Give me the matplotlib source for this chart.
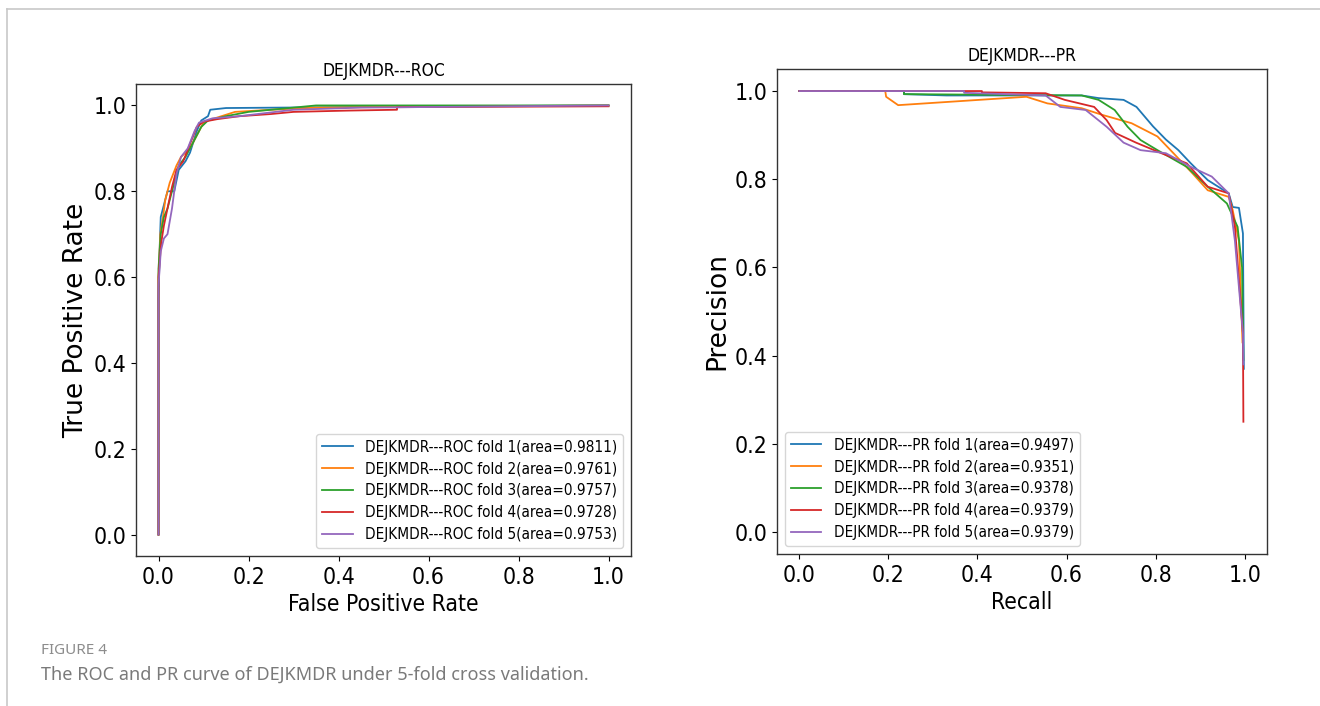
"""ROC and PR curves of DEJKMDR under 5-fold cross validation (figure 4 recreation)."""

import matplotlib

matplotlib.use("Agg")
import matplotlib.pyplot as plt
from matplotlib.lines import Line2D

# ---------------------------------------------------------------------------
# Data
# ---------------------------------------------------------------------------
FOLD_LABELS = ["fold 1", "fold 2", "fold 3", "fold 4", "fold 5"]
ROC_AREA = ["0.9811", "0.9761", "0.9757", "0.9728", "0.9753"]
PR_AREA = ["0.9497", "0.9351", "0.9378", "0.9379", "0.9379"]

roc_fpr_1 = [0, 0, 0.003, 0.005, 0.015, 0.02, 0.035, 0.045, 0.06, 0.07, 0.085, 0.095, 0.11, 0.115, 0.15, 0.4, 0.6, 1.0]
roc_tpr_1 = [0, 0.55, 0.68, 0.74, 0.78, 0.80, 0.80, 0.85, 0.87, 0.89, 0.94, 0.965, 0.975, 0.99, 0.994, 0.996, 0.998, 1.0]
roc_fpr_2 = [0, 0, 0.004, 0.01, 0.015, 0.025, 0.04, 0.05, 0.07, 0.085, 0.1, 0.11, 0.14, 0.17, 0.25, 0.35, 0.55, 1.0]
roc_tpr_2 = [0, 0.6, 0.70, 0.74, 0.78, 0.82, 0.86, 0.88, 0.90, 0.93, 0.96, 0.965, 0.975, 0.985, 0.99, 0.995, 0.997, 1.0]
roc_fpr_3 = [0, 0, 0.005, 0.012, 0.02, 0.03, 0.045, 0.06, 0.08, 0.095, 0.11, 0.15, 0.2, 0.3, 0.35, 1.0]
roc_tpr_3 = [0, 0.62, 0.70, 0.74, 0.76, 0.80, 0.86, 0.88, 0.92, 0.95, 0.965, 0.975, 0.985, 0.995, 1.0, 1.0]
roc_fpr_4 = [0, 0, 0.006, 0.012, 0.02, 0.03, 0.04, 0.055, 0.07, 0.085, 0.1, 0.13, 0.18, 0.25, 0.3, 0.42, 0.53, 0.53, 1.0]
roc_tpr_4 = [0, 0.6, 0.68, 0.72, 0.76, 0.81, 0.85, 0.87, 0.91, 0.95, 0.962, 0.968, 0.975, 0.98, 0.985, 0.988, 0.99, 0.996, 0.998]
roc_fpr_5 = [0, 0, 0.005, 0.012, 0.02, 0.03, 0.04, 0.05, 0.065, 0.08, 0.09, 0.12, 0.18, 0.22, 0.3, 0.45, 1.0]
roc_tpr_5 = [0, 0.58, 0.66, 0.69, 0.70, 0.76, 0.84, 0.88, 0.90, 0.94, 0.96, 0.97, 0.975, 0.98, 0.99, 0.995, 1.0]

pr_rec_1 = [0, 0.235, 0.235, 0.33, 0.634, 0.672, 0.728, 0.757, 0.794, 0.823, 0.851, 0.879, 0.917, 0.964, 0.973, 0.987, 0.996, 0.998]
pr_prec_1 = [1.0, 1.0, 0.993, 0.99, 0.99, 0.984, 0.98, 0.964, 0.92, 0.89, 0.866, 0.836, 0.798, 0.768, 0.737, 0.735, 0.677, 0.37]
pr_rec_2 = [0, 0.193, 0.195, 0.222, 0.51, 0.557, 0.634, 0.68, 0.746, 0.804, 0.84, 0.883, 0.917, 0.964, 0.973, 0.987, 0.995]
pr_prec_2 = [1.0, 1.0, 0.987, 0.968, 0.987, 0.972, 0.961, 0.946, 0.927, 0.897, 0.859, 0.813, 0.775, 0.76, 0.73, 0.66, 0.43]
pr_rec_3 = [0, 0.235, 0.235, 0.634, 0.672, 0.708, 0.737, 0.766, 0.804, 0.87, 0.917, 0.96, 0.984, 0.994, 0.997]
pr_prec_3 = [1.0, 1.0, 0.993, 0.99, 0.98, 0.957, 0.919, 0.889, 0.866, 0.828, 0.783, 0.745, 0.692, 0.6, 0.39]
pr_rec_4 = [0, 0.41, 0.41, 0.553, 0.596, 0.662, 0.69, 0.709, 0.756, 0.813, 0.87, 0.917, 0.964, 0.978, 0.996, 0.997]
pr_prec_4 = [1.0, 1.0, 0.997, 0.995, 0.98, 0.964, 0.934, 0.905, 0.883, 0.859, 0.836, 0.783, 0.768, 0.692, 0.45, 0.25]
pr_rec_5 = [0, 0.37, 0.37, 0.553, 0.586, 0.643, 0.69, 0.728, 0.766, 0.823, 0.879, 0.926, 0.964, 0.978, 0.996, 0.997]
pr_prec_5 = [1.0, 1.0, 0.996, 0.99, 0.964, 0.957, 0.919, 0.883, 0.866, 0.859, 0.828, 0.806, 0.768, 0.66, 0.45, 0.38]

roc_fpr = [roc_fpr_1, roc_fpr_2, roc_fpr_3, roc_fpr_4, roc_fpr_5]
roc_tpr = [roc_tpr_1, roc_tpr_2, roc_tpr_3, roc_tpr_4, roc_tpr_5]
pr_rec = [pr_rec_1, pr_rec_2, pr_rec_3, pr_rec_4, pr_rec_5]
pr_prec = [pr_prec_1, pr_prec_2, pr_prec_3, pr_prec_4, pr_prec_5]

TICKS = [0.0, 0.2, 0.4, 0.6, 0.8, 1.0]
TICK_LABELS = ["0.0", "0.2", "0.4", "0.6", "0.8", "1.0"]
COLORS = ["#1f77b4", "#ff7f0e", "#2ca02c", "#d62728", "#9467bd"]

# narrow-looking horizontal text (source image was squeezed sideways)
NARROW = dict(family="DejaVu Sans", stretch="condensed")


def style_axes(ax, title, xlabel, ylabel):
    ax.set_xlim(-0.05, 1.05)
    ax.set_ylim(-0.05, 1.05)
    ax.set_xticks(TICKS)
    ax.set_yticks(TICKS)
    ax.set_xticklabels(TICK_LABELS, fontsize=16.5, **NARROW)
    ax.set_yticklabels(TICK_LABELS, fontsize=16.5, **NARROW)
    ax.set_title(title, fontsize=12.5, pad=6, **NARROW)
    ax.set_xlabel(xlabel, fontsize=16.5, labelpad=3, **NARROW)
    ax.set_ylabel(ylabel, fontsize=19, labelpad=3)
    for sp in ax.spines.values():
        sp.set_linewidth(1.0)
        sp.set_color("#333333")


fig = plt.figure(figsize=(13.2, 7.06), dpi=100)

# page frame lines (top and left)
fig.add_artist(Line2D([7 / 1320, 1.0], [1 - 9 / 706, 1 - 9 / 706], color="#c8c8c8", lw=1.2))
fig.add_artist(Line2D([7 / 1320, 7 / 1320], [0.0, 1 - 9 / 706], color="#c8c8c8", lw=1.2))

ax_roc = fig.add_axes([136 / 1320, 1 - 556 / 706, 495 / 1320, 472 / 706])
ax_pr = fig.add_axes([777 / 1320, 1 - 554 / 706, 490 / 1320, 485 / 706])

for i in range(5):
    ax_roc.plot(roc_fpr[i], roc_tpr[i], color=COLORS[i], lw=1.3,
                label=f"DEJKMDR---ROC {FOLD_LABELS[i]}(area={ROC_AREA[i]})")
    ax_pr.plot(pr_rec[i], pr_prec[i], color=COLORS[i], lw=1.3,
               label=f"DEJKMDR---PR {FOLD_LABELS[i]}(area={PR_AREA[i]})")

style_axes(ax_roc, "DEJKMDR---ROC", "False Positive Rate", "True Positive Rate")
style_axes(ax_pr, "DEJKMDR---PR", "Recall", "Precision")

leg_font = dict(size=11, **NARROW)
ax_roc.legend(loc="lower right", prop=leg_font, labelspacing=0.45, borderaxespad=0.5)
ax_pr.legend(loc="lower left", prop=leg_font, labelspacing=0.45, borderaxespad=0.5)

fig.text(41 / 1320, 1 - 651 / 706, "FIGURE 4", fontsize=11, color="#8c8c8c",
         family="Noto Sans", weight="medium", va="center")
fig.text(41 / 1320, 1 - 675 / 706,
         "The ROC and PR curve of DEJKMDR under 5-fold cross validation.",
         fontsize=13, color="#7a7a7a", family="Noto Sans", va="center")

fig.savefig("out.png", dpi=100)
